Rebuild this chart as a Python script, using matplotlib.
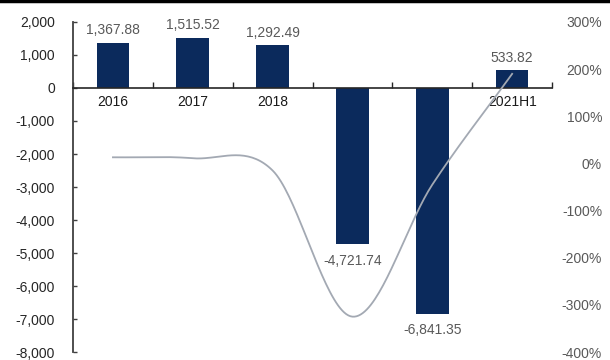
import numpy as np
import matplotlib
matplotlib.use("Agg")
import matplotlib.pyplot as plt
from matplotlib.ticker import FuncFormatter, FixedLocator

plt.rcParams['font.family'] = ['Liberation Sans', 'DejaVu Sans']

categories = ["2016", "2017", "2018", "2019", "2020", "2021H1"]
net_values = [1367.88, 1515.52, 1292.49, -4721.74, -6841.35, 533.82]
growth_pct = [13, 11, -15, -325, -45, 190]

BAR_COLOR = "#0b2a5c"
LINE_COLOR = "#a3a9b3"
LABEL_GRAY = "#595959"


def catmull_rom(xs, ys, n=40):
    """Smooth curve through the points (Excel-style smoothed line)."""
    xs = np.asarray(xs, float)
    ys = np.asarray(ys, float)
    px = np.concatenate([[2 * xs[0] - xs[1]], xs, [2 * xs[-1] - xs[-2]]])
    py = np.concatenate([[2 * ys[0] - ys[1]], ys, [2 * ys[-1] - ys[-2]]])
    out_x, out_y = [], []
    t = np.linspace(0, 1, n)
    for i in range(1, len(px) - 2):
        p0x, p1x, p2x, p3x = px[i - 1:i + 3]
        p0y, p1y, p2y, p3y = py[i - 1:i + 3]
        m1x, m2x = (p2x - p0x) / 2, (p3x - p1x) / 2
        m1y, m2y = (p2y - p0y) / 2, (p3y - p1y) / 2
        h00 = 2 * t**3 - 3 * t**2 + 1
        h10 = t**3 - 2 * t**2 + t
        h01 = -2 * t**3 + 3 * t**2
        h11 = t**3 - t**2
        out_x.append(h00 * p1x + h10 * m1x + h01 * p2x + h11 * m2x)
        out_y.append(h00 * p1y + h10 * m1y + h01 * p2y + h11 * m2y)
    return np.concatenate(out_x), np.concatenate(out_y)


fig = plt.figure(figsize=(6.1, 3.6), dpi=100)
ax = fig.add_axes([0.1197, 0.0222, 0.7853, 0.9167])
x = np.arange(len(categories))

ax.bar(x, net_values, width=0.41, color=BAR_COLOR, zorder=2)

# value labels
for xi, v in zip(x, net_values):
    if v >= 0:
        ax.annotate(f"{v:,.2f}", (xi, v), xytext=(0, 4), textcoords="offset points",
                    ha="center", va="bottom", fontsize=10, color=LABEL_GRAY)
    else:
        ax.annotate(f"{v:,.2f}", (xi, v), xytext=(0, -7), textcoords="offset points",
                    ha="center", va="top", fontsize=10, color=LABEL_GRAY)

ax.set_xlim(-0.5, len(categories) - 0.5)
ax.set_ylim(-8000, 2000)
ax.set_yticks(np.arange(-8000, 2001, 1000))
ax.yaxis.set_major_formatter(FuncFormatter(lambda v, p: f"{v:,.0f}"))
ax.tick_params(axis="y", direction="in", length=3, width=1, pad=13,
               labelsize=10, labelcolor="#262626", color="#404040")

ax.spines["top"].set_visible(False)
ax.spines["right"].set_visible(False)
ax.spines["left"].set_color("#404040")
ax.spines["left"].set_linewidth(1.3)
ax.spines["bottom"].set_position(("data", 0))
ax.spines["bottom"].set_color("#262626")
ax.spines["bottom"].set_linewidth(1.2)
ax.spines["bottom"].set_zorder(3)

ax.set_xticks(x)
ax.set_xticklabels(categories)
ax.tick_params(axis="x", which="major", length=0, pad=5, labelsize=10,
               labelcolor="#1a1a1a")
ax.xaxis.set_minor_locator(FixedLocator(np.arange(-0.5, len(categories), 1.0)))
ax.tick_params(axis="x", which="minor", direction="in", length=4, width=1,
               color="#262626")
for lbl in ax.get_xticklabels():
    lbl.set_zorder(1)

# growth rate on the secondary axis
ax2 = ax.twinx()
sx, sy = catmull_rom(x, growth_pct)
ax2.plot(sx, sy, color=LINE_COLOR, linewidth=1.3, zorder=4)
ax2.set_ylim(-400, 300)
ax2.set_yticks(np.arange(-400, 301, 100))
ax2.yaxis.set_major_formatter(FuncFormatter(lambda v, p: f"{v:.0f}%"))
ax2.tick_params(axis="y", length=0, pad=36, labelsize=10, labelcolor=LABEL_GRAY)
for lbl in ax2.get_yticklabels():
    lbl.set_horizontalalignment("right")
for s in ax2.spines.values():
    s.set_visible(False)

# dark rule along the top edge
fig.add_artist(plt.Line2D([0, 1], [0.996, 0.996], transform=fig.transFigure,
                          color="black", linewidth=2.5))

fig.savefig("out.png", dpi=100)
